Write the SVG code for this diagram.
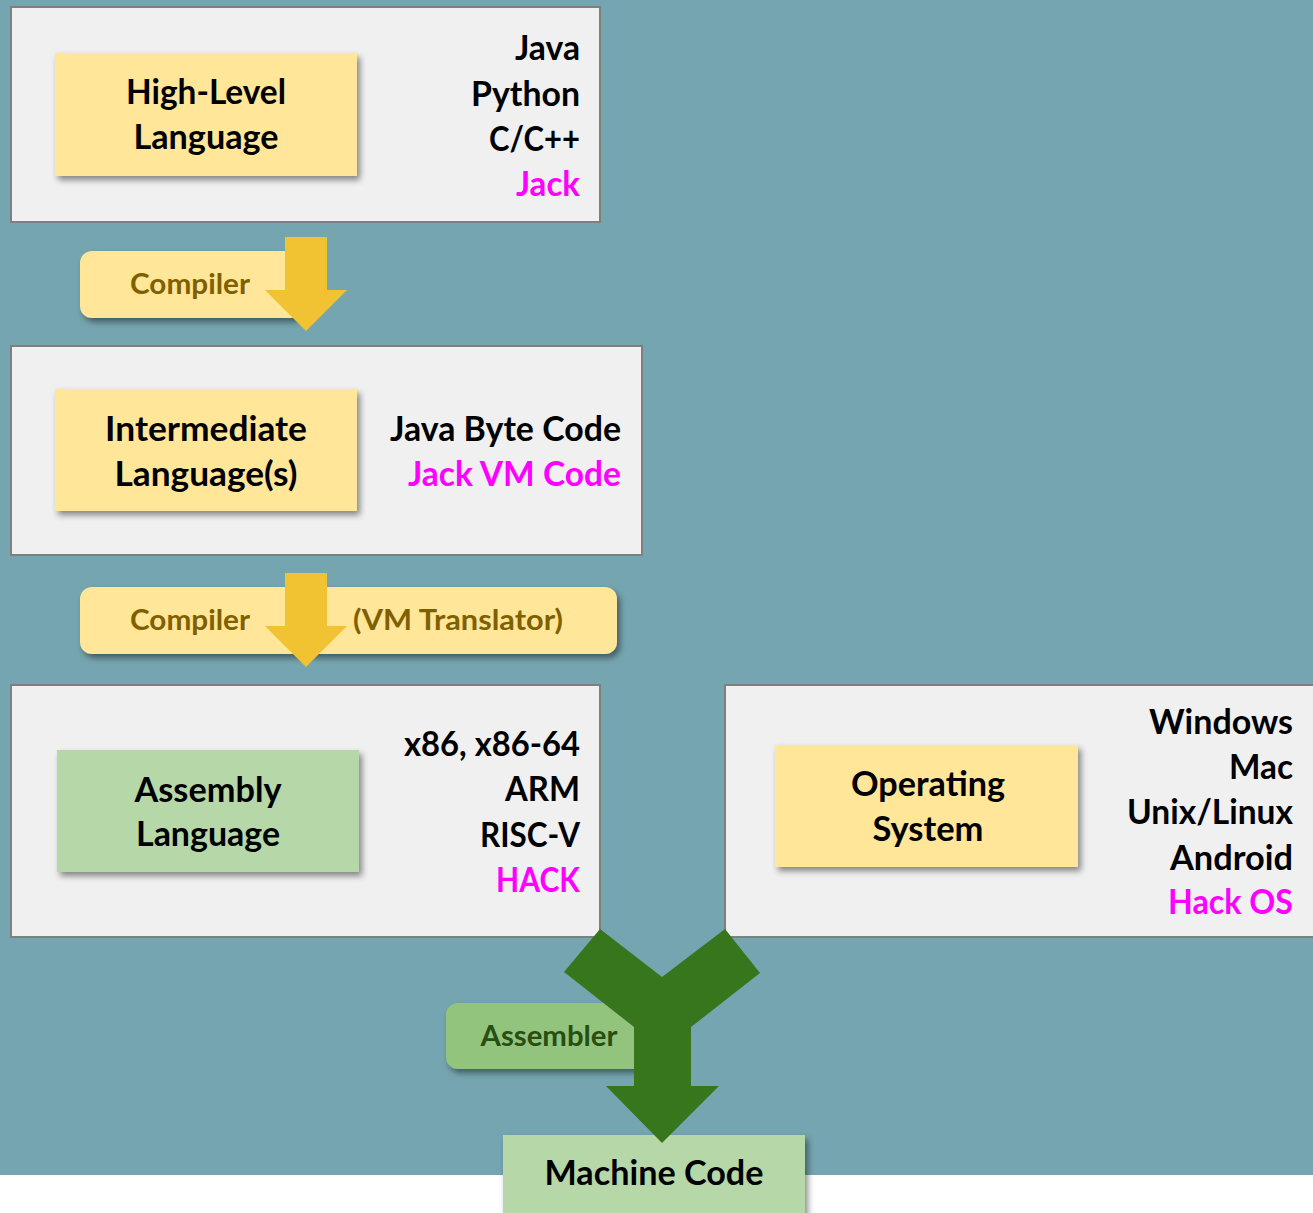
<svg xmlns="http://www.w3.org/2000/svg" width="1313" height="1213" viewBox="0 0 1313 1213">
<style>
.bg{fill:#75A5B0}
.panel{fill:#F0F0F0;stroke:#7F7F7F;stroke-width:2}
.yel{fill:#FFE699}
.grn{fill:#B6D7A8}
.t{font-family:Lato,"Open Sans",sans-serif;font-weight:700;font-size:34px;fill:#000}
.m{fill:#FF00FF}
.c{text-anchor:middle}
.r{text-anchor:end}
.lab{font-family:Lato,"Open Sans",sans-serif;font-weight:700;font-size:28px;fill:#7F6000}
.alab{font-family:Lato,"Open Sans",sans-serif;font-weight:700;font-size:28px;fill:#274E13}
.yarrow{fill:#F1C232}
.garrow{fill:#38761D}
</style>
<defs>
<filter id="sh" x="-10%" y="-10%" width="130%" height="140%">
<feDropShadow dx="3" dy="4" stdDeviation="3" flood-color="#000" flood-opacity="0.45"/>
</filter>
</defs>
<rect class="bg" x="0" y="0" width="1313" height="1175"/>
<rect x="0" y="1175" width="1313" height="38" fill="#FFFFFF"/>

<g id="high-level">
<rect class="panel" x="11" y="7" width="589" height="215"/>
<rect class="yel" x="55" y="53" width="302" height="123" filter="url(#sh)"/>
<text class="t c" x="206" y="104" textLength="160" lengthAdjust="spacingAndGlyphs">High-Level</text>
<text class="t c" x="206" y="149" textLength="145" lengthAdjust="spacingAndGlyphs">Language</text>
<text class="t r" x="580" y="60" textLength="65" lengthAdjust="spacingAndGlyphs">Java</text>
<text class="t r" x="580" y="106" textLength="109" lengthAdjust="spacingAndGlyphs">Python</text>
<text class="t r" x="580" y="151" textLength="91" lengthAdjust="spacingAndGlyphs">C/C++</text>
<text class="t r m" x="580" y="196" textLength="64" lengthAdjust="spacingAndGlyphs">Jack</text>
</g>

<g id="intermediate">
<rect class="panel" x="11" y="346" width="631" height="209"/>
<rect class="yel" x="55" y="389" width="302" height="122" filter="url(#sh)"/>
<text class="t c" x="206" y="441" textLength="202" lengthAdjust="spacingAndGlyphs">Intermediate</text>
<text class="t c" x="206" y="486" textLength="183" lengthAdjust="spacingAndGlyphs">Language(s)</text>
<text class="t r" x="621" y="441" textLength="231" lengthAdjust="spacingAndGlyphs">Java Byte Code</text>
<text class="t r m" x="621" y="486" textLength="213" lengthAdjust="spacingAndGlyphs">Jack VM Code</text>
</g>

<g id="assembly">
<rect class="panel" x="11" y="685" width="589" height="252"/>
<rect class="grn" x="57" y="750" width="302" height="122" filter="url(#sh)"/>
<text class="t c" x="208" y="802" textLength="147" lengthAdjust="spacingAndGlyphs">Assembly</text>
<text class="t c" x="208" y="846" textLength="144" lengthAdjust="spacingAndGlyphs">Language</text>
<text class="t r" x="580" y="756" textLength="176" lengthAdjust="spacingAndGlyphs">x86, x86-64</text>
<text class="t r" x="580" y="801" textLength="75" lengthAdjust="spacingAndGlyphs">ARM</text>
<text class="t r" x="580" y="847" textLength="100" lengthAdjust="spacingAndGlyphs">RISC-V</text>
<text class="t r m" x="580" y="892" textLength="84" lengthAdjust="spacingAndGlyphs">HACK</text>
</g>

<g id="os">
<rect class="panel" x="725" y="685" width="590" height="252"/>
<rect class="yel" x="775" y="745" width="303" height="122" filter="url(#sh)"/>
<text class="t c" x="928" y="796" textLength="154" lengthAdjust="spacingAndGlyphs">Operating</text>
<text class="t c" x="928" y="841" textLength="111" lengthAdjust="spacingAndGlyphs">System</text>
<text class="t r" x="1293" y="734" textLength="144" lengthAdjust="spacingAndGlyphs">Windows</text>
<text class="t r" x="1293" y="779" textLength="64" lengthAdjust="spacingAndGlyphs">Mac</text>
<text class="t r" x="1293" y="824" textLength="166" lengthAdjust="spacingAndGlyphs">Unix/Linux</text>
<text class="t r" x="1293" y="870" textLength="123" lengthAdjust="spacingAndGlyphs">Android</text>
<text class="t r m" x="1293" y="914" textLength="125" lengthAdjust="spacingAndGlyphs">Hack OS</text>
</g>

<g id="machine-code">
<rect class="grn" x="503" y="1135" width="302" height="80" filter="url(#sh)"/>
<text class="t c" x="654" y="1185" textLength="219" lengthAdjust="spacingAndGlyphs">Machine Code</text>
</g>

<g id="connectors">
<g id="compiler1">
<rect class="yel" x="80" y="251" width="222" height="67" rx="12" filter="url(#sh)"/>
<text class="lab c" x="190" y="294" textLength="120" lengthAdjust="spacingAndGlyphs">Compiler</text>
<polygon class="yarrow" points="285,237 327,237 327,290 347,290 306,331 265,290 285,290"/>
</g>
<g id="compiler2">
<rect class="yel" x="80" y="587" width="537" height="67" rx="12" filter="url(#sh)"/>
<text class="lab c" x="190" y="630" textLength="120" lengthAdjust="spacingAndGlyphs">Compiler</text>
<text class="lab c" x="458" y="630" textLength="210" lengthAdjust="spacingAndGlyphs">(VM Translator)</text>
<polygon class="yarrow" points="285,573 327,573 327,626 347,626 306,667 265,626 285,626"/>
</g>
<g id="assembler">
<rect x="446" y="1003" width="200" height="66" rx="12" fill="#93C47D" filter="url(#sh)"/>
<text class="alab c" x="549" y="1046" textLength="137" lengthAdjust="spacingAndGlyphs">Assembler</text>
<polygon class="garrow" points="600,929 662,977 725,929 760,973 691,1027 691,1086 719,1086 662,1143 606,1086 634,1086 634,1027 564,972"/>
</g>
</g>
</svg>
